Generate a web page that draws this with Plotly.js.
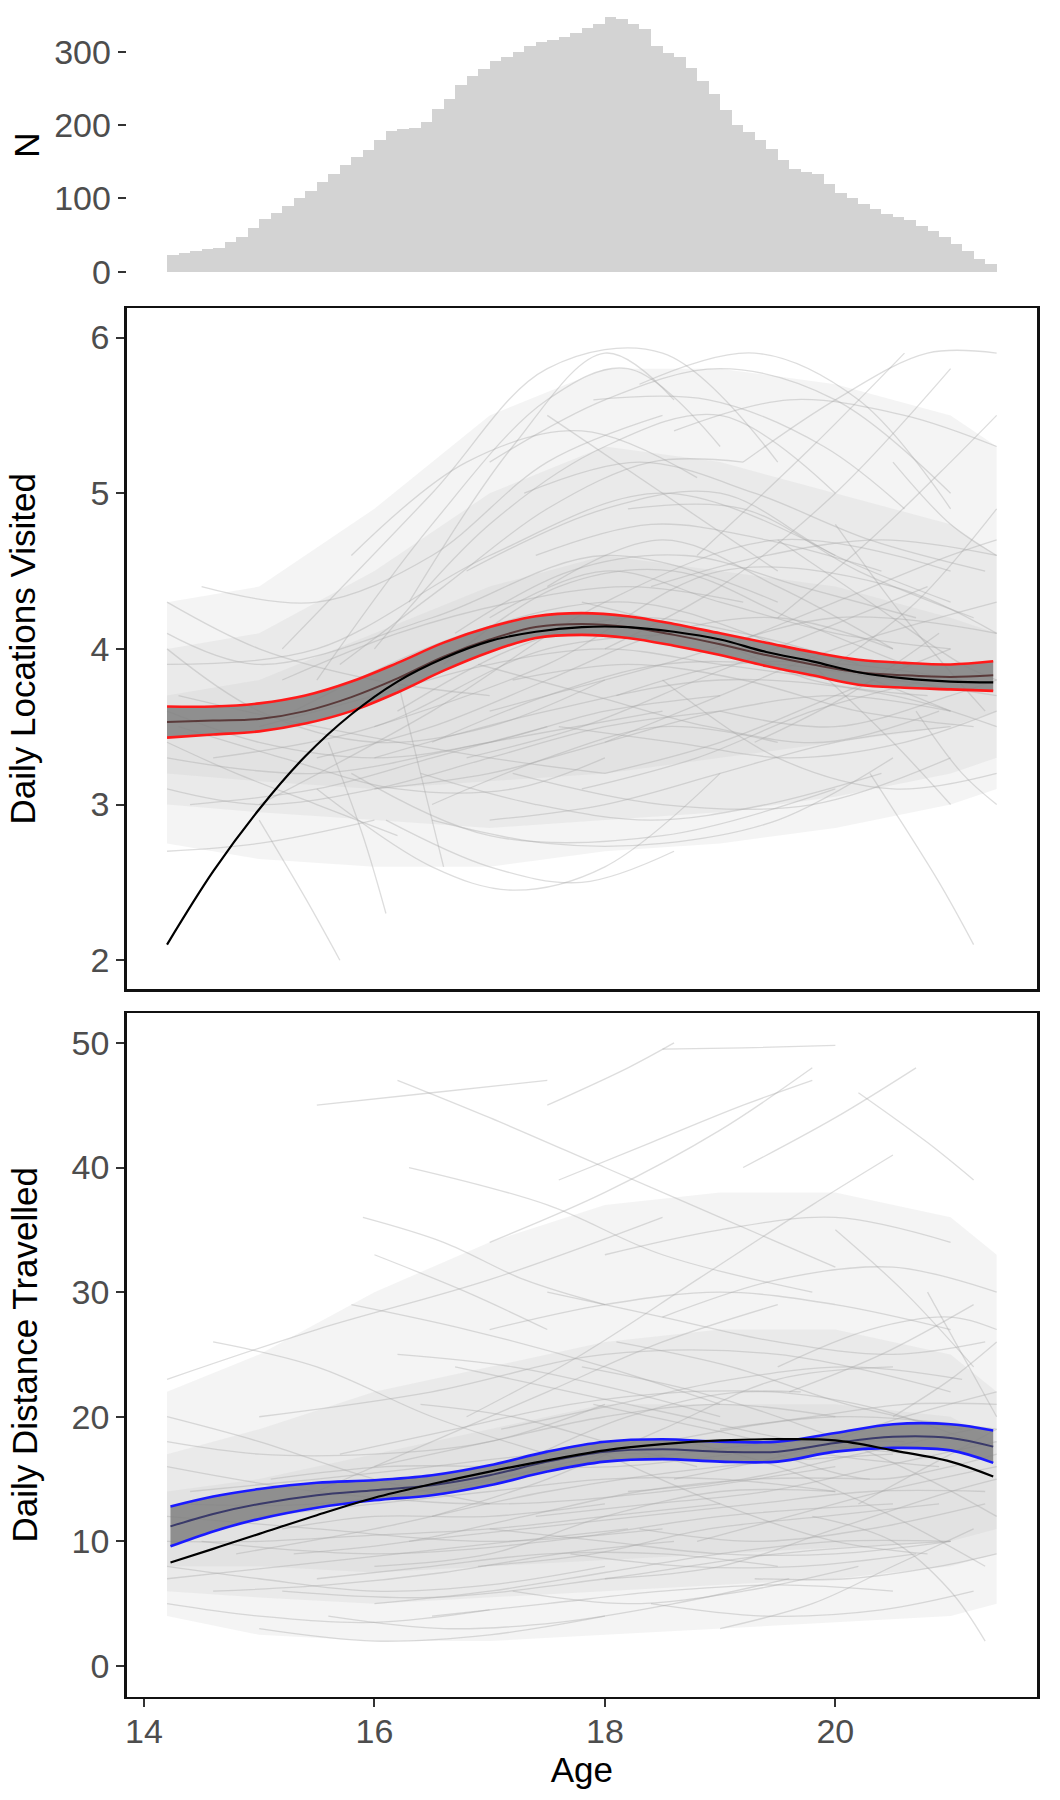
<!DOCTYPE html>
<html>
<head>
<meta charset="utf-8">
<script src="https://cdn.plot.ly/plotly-3.0.1.min.js"></script>
<style>html,body{margin:0;padding:0;background:#fff;}#chart{width:1060px;height:1800px;}</style>
</head>
<body>
<div id="chart"></div>
<script>
// ---------------- DATA ----------------
// Histogram of observations by age (0.1-year bins, bin centres)
const histAge = [14.25,14.35,14.45,14.55,14.65,14.75,14.85,14.95,15.05,15.15,15.25,15.35,15.45,15.55,15.65,15.75,15.85,15.95,16.05,16.15,16.25,16.35,16.45,16.55,16.65,16.75,16.85,16.95,17.05,17.15,17.25,17.35,17.45,17.55,17.65,17.75,17.85,17.95,18.05,18.15,18.25,18.35,18.45,18.55,18.65,18.75,18.85,18.95,19.05,19.15,19.25,19.35,19.45,19.55,19.65,19.75,19.85,19.95,20.05,20.15,20.25,20.35,20.45,20.55,20.65,20.75,20.85,20.95,21.05,21.15,21.25,21.35];
const histN = [23,26,28,31,33,40,48,60,72,80,90,100,110,122,133,145,156,166,180,192,195,196,204,222,236,254,267,276,287,293,300,308,313,316,320,326,332,338,347,344,338,331,308,298,293,278,260,243,220,200,190,180,168,153,140,136,133,120,108,100,92,86,79,75,70,63,55,48,38,28,18,10];

// Daily Locations Visited: smooth (mean + CI) and polynomial fit
const locAge   = [14.2,14.6,15.0,15.4,15.8,16.2,16.6,17.0,17.4,17.8,18.2,18.6,19.0,19.4,19.8,20.2,20.6,21.0,21.37];
const locMean  = [3.53,3.54,3.55,3.60,3.69,3.81,3.95,4.06,4.14,4.16,4.14,4.09,4.03,3.96,3.90,3.85,3.83,3.82,3.83];
const locUpper = [3.63,3.63,3.65,3.70,3.79,3.91,4.04,4.14,4.21,4.23,4.21,4.16,4.10,4.04,3.98,3.93,3.91,3.90,3.92];
const locLower = [3.43,3.45,3.47,3.52,3.60,3.72,3.86,3.98,4.07,4.09,4.07,4.02,3.96,3.89,3.83,3.77,3.75,3.74,3.73];
const locPoly  = [2.10,2.57,2.97,3.31,3.58,3.79,3.94,4.05,4.11,4.14,4.14,4.11,4.06,3.98,3.92,3.85,3.81,3.79,3.785];

// Daily Distance Travelled: smooth (mean + CI) and polynomial fit
const distAge   = [14.23,14.6,15.0,15.5,16.0,16.5,17.0,17.5,18.0,18.5,19.0,19.5,20.0,20.5,21.0,21.37];
const distMean  = [11.2,12.2,13.0,13.7,14.1,14.5,15.3,16.4,17.2,17.4,17.2,17.2,17.9,18.4,18.3,17.6];
const distUpper = [12.8,13.6,14.2,14.7,14.9,15.3,16.1,17.2,18.0,18.2,18.0,18.0,18.7,19.4,19.4,18.9];
const distLower = [9.6,10.8,11.8,12.7,13.3,13.7,14.5,15.6,16.4,16.6,16.4,16.4,17.2,17.5,17.3,16.3];
const distPoly  = [8.3,9.4,10.6,12.1,13.5,14.6,15.6,16.5,17.3,17.8,18.1,18.2,18.1,17.3,16.4,15.2];

// Density of the individual trajectories (read from the grey cloud), three nested levels
const cloudAge   = [14.2,15,16,17,18,19,20,21,21.4];
const locCloudLo = [[2.75,2.65,2.6,2.6,2.7,2.75,2.85,3.0,3.1],[3.0,2.95,2.9,2.85,2.9,2.95,3.05,3.2,3.3],[3.2,3.15,3.1,3.15,3.2,3.3,3.4,3.5,3.6]];
const locCloudHi = [[4.3,4.4,4.9,5.5,5.8,5.8,5.7,5.5,5.3],[4.0,4.1,4.5,5.0,5.3,5.2,5.0,4.8,4.6],[3.7,3.8,4.1,4.4,4.6,4.5,4.4,4.2,4.1]];
const distCloudLo = [[4,2.5,2,2,2.5,3,3.5,4,5],[6,5.5,5,5.5,6,6.5,7,8,9],[8,8,7.5,8,8.5,9,9.5,10,11]];
const distCloudHi = [[22,25,30,34,37,38,38,36,33],[17,19,22,24,26,27,27,25,22],[14,15,17,19,21,21,21,20,18]];

// Individual trajectories (age, value)
const locTraj = [
 [[14.2,4.3],[15,4.0],[16,3.8],[17,3.7]],
 [[14.2,4.1],[15,3.9],[16.5,4.2],[18,4.6],[19.5,4.3]],
 [[14.2,3.9],[15.5,4.0],[17,4.6],[18.5,5.0],[20,4.6]],
 [[14.2,3.3],[15.5,3.2],[17,3.4],[18.5,3.6]],
 [[14.2,2.7],[15,2.75],[16,2.9]],
 [[14.3,3.7],[15.5,3.5],[17,3.3],[18,3.2]],
 [[14.5,4.4],[15.5,4.3],[16.5,4.6],[17.5,5.2],[18.5,5.5]],
 [[15.0,3.0],[16.5,3.6],[18,4.3],[19.5,4.7],[21,4.5]],
 [[15.2,4.0],[16.5,5.0],[17.5,5.8],[18.5,5.9],[19.5,5.2]],
 [[15.5,3.8],[16.5,4.8],[17.5,5.6],[18.2,5.8],[19,5.3]],
 [[15.5,3.1],[16.5,2.6],[17.2,2.45],[18,2.6],[19,3.2]],
 [[15.8,3.2],[17,2.8],[18.5,2.8],[20,3.1]],
 [[16.0,4.0],[17,4.8],[18,5.3],[19,5.5],[20,5.0]],
 [[16.0,3.5],[17.5,3.9],[19,4.5],[20.5,4.4],[21.4,4.1]],
 [[16.3,4.3],[17.2,5.3],[18,5.9],[18.6,5.6]],
 [[16.5,3.0],[17.5,3.3],[18.5,3.5],[19.5,3.4]],
 [[16.5,2.9],[17.5,2.75],[18.5,2.75],[19.5,2.9],[20.5,3.3]],
 [[16.8,4.5],[18,4.9],[19,5.0],[20,4.6],[21,4.3]],
 [[17.0,3.6],[18.5,3.9],[20,4.2],[21.4,4.1]],
 [[17.0,5.2],[18,5.6],[19,5.8],[20,5.6],[21,5.0]],
 [[17.2,3.2],[18.5,3.0],[19.8,3.0],[21,3.3]],
 [[17.5,4.4],[18.5,4.7],[19.5,4.4],[20.5,4.0]],
 [[17.5,5.5],[18.5,5.0],[19.5,4.5]],
 [[18.0,3.4],[19,3.7],[20,4.0],[21.4,4.3]],
 [[18.0,4.0],[19,4.4],[20,5.0],[21,5.8]],
 [[18.3,5.7],[19.3,5.9],[20.2,5.6],[21,4.9]],
 [[18.5,3.8],[19.5,3.3],[20.5,3.1],[21.4,3.2]],
 [[18.8,4.6],[19.8,5.3],[20.6,5.9]],
 [[19.0,3.6],[20,3.5],[21,3.7],[21.4,3.8]],
 [[19.2,5.2],[20,5.6],[20.8,5.9],[21.4,5.9]],
 [[19.5,4.2],[20.3,4.7],[21,5.2],[21.4,5.5]],
 [[19.8,3.9],[20.5,3.4],[21,3.0]],
 [[20.0,4.8],[20.6,4.2],[21.3,3.6]],
 [[20.3,3.2],[20.9,2.5],[21.2,2.1]],
 [[15.0,2.9],[15.4,2.4],[15.7,2.0]],
 [[15.6,3.4],[15.9,2.8],[16.1,2.3]],
 [[16.2,3.8],[16.4,3.2],[16.6,2.6]],
 [[14.2,4.0],[15,3.6],[16,3.4],[17,3.5],[18,3.8]],
 [[14.6,3.3],[16,3.5],[17.5,4.0],[19,4.1]],
 [[15.3,3.6],[16.8,4.1],[18.2,4.3],[19.6,4.0],[21,3.6]],
 [[15.8,4.6],[16.8,5.2],[17.8,5.4],[18.8,5.1]],
 [[16.0,3.3],[17.5,3.6],[19,3.8],[20.5,3.7],[21.4,3.5]],
 [[16.6,3.9],[17.6,4.4],[18.6,4.5],[19.6,4.2],[20.6,3.9]],
 [[17.8,3.1],[18.8,3.3],[19.8,3.6],[20.8,3.8]],
 [[18.2,4.9],[19.2,4.9],[20.2,4.5],[21.2,4.2]],
 [[14.3,3.5],[15.2,3.3],[16.2,3.1],[17.2,3.1],[18,3.3]],
 [[17.0,4.2],[18,4.5],[19,4.3],[20,4.1],[21,4.0]],
 [[19.5,4.7],[20.3,4.3],[21.1,3.9],[21.4,3.8]],
 [[20.5,5.2],[21,4.8],[21.4,4.6]],
 [[16.9,3.9],[17.9,3.7],[18.9,3.5],[19.9,3.4],[20.9,3.6]],
 [[14.2,3.6],[15,3.4],[16,3.3],[17,3.4],[18,3.6],[19,3.7]],
 [[14.4,3.0],[15.5,3.1],[16.5,3.3],[17.5,3.5]],
 [[14.2,3.1],[15,3.0],[16,3.1],[17,3.3],[18,3.5],[19,3.6]],
 [[15.0,3.5],[16,3.7],[17,3.9],[18,4.0],[19,3.9],[20,3.8]],
 [[15.5,3.3],[16.5,3.5],[17.5,3.8],[18.5,4.1],[19.5,4.2],[20.5,4.0]],
 [[16.0,3.1],[17,3.2],[18,3.4],[19,3.6],[20,3.7],[21,3.6]],
 [[16.2,3.6],[17.2,4.0],[18.2,4.2],[19.2,4.1],[20.2,3.9]],
 [[16.5,3.4],[17.5,3.7],[18.5,3.9],[19.5,3.9],[20.5,3.8],[21.4,3.7]],
 [[16.7,4.1],[17.7,4.5],[18.7,4.6],[19.7,4.4],[20.7,4.2]],
 [[17.0,2.9],[18,3.0],[19,3.2],[20,3.4],[21,3.5]],
 [[17.2,3.8],[18.2,3.9],[19.2,3.8],[20.2,3.6],[21.2,3.5]],
 [[17.4,4.6],[18.4,4.8],[19.4,4.7],[20.4,4.5]],
 [[17.6,3.5],[18.6,3.4],[19.6,3.3],[20.6,3.4],[21.4,3.6]],
 [[17.8,4.3],[18.8,4.1],[19.8,3.8],[20.8,3.7]],
 [[18.0,3.2],[19,3.4],[20,3.7],[21,4.0]],
 [[18.4,4.4],[19.4,4.6],[20.4,4.7],[21.4,4.6]],
 [[16.4,3.2],[17.4,3.0],[18.4,2.9],[19.4,3.0],[20.4,3.2]],
 [[15.2,3.8],[16.2,4.1],[17.2,4.3],[18.2,4.4],[19.2,4.3]],
 [[17.3,5.0],[18.3,5.2],[19.3,5.0],[20.3,4.7],[21.3,4.5]],
 [[18.6,5.4],[19.6,5.6],[20.6,5.5],[21.4,5.3]],
 [[16.1,2.9],[17,2.6],[17.8,2.5],[18.6,2.7]],
 [[19.0,4.0],[20,4.3],[21,4.6],[21.4,4.7]],
 [[19.3,3.4],[20.1,3.7],[20.9,4.1]],
 [[20.0,3.9],[20.7,4.3],[21.4,4.9]],
 [[20.7,3.6],[21.1,3.2],[21.4,3.0]],
 [[14.2,3.4],[14.8,3.2],[15.5,3.0],[16.2,2.8]],
 [[15.7,3.9],[16.6,4.4],[17.5,4.9],[18.4,5.2],[19.2,5.2]],
 [[17.9,5.6],[18.9,5.6],[19.9,5.3],[20.6,4.9]],
 [[18.1,3.7],[19.1,3.9],[20.1,3.9],[21.1,3.8]],
 [[16.8,3.3],[17.8,3.5],[18.8,3.8],[19.8,4.1],[20.8,4.4]]
];
const distTraj = [
 [[14.2,23],[15.5,27],[17,31],[18.5,36]],
 [[14.2,20],[15,18],[16,15],[17,13]],
 [[14.2,16],[15.5,14],[17,13],[18.5,14],[20,16]],
 [[14.2,12],[15.5,11],[17,10],[18.5,11]],
 [[14.2,8],[15,7],[16,6],[17,6.5],[18,8]],
 [[14.2,5],[15,4],[16,3.5],[17,4.5]],
 [[14.5,10],[16,9],[17.5,10],[19,12],[20.5,13]],
 [[14.6,26],[15.5,24],[16.5,20],[17.5,17]],
 [[15.0,3],[16,2],[17,2.5],[18,4]],
 [[15.2,6],[16.5,5.5],[18,7],[19.5,9],[21,10]],
 [[15.5,14],[16.5,18],[17.5,22],[18.5,26],[19.5,29]],
 [[15.8,29],[16.8,27],[18,24],[19,21]],
 [[16.0,8],[17,9],[18,12],[19,14],[20,14]],
 [[16.2,47],[17,44],[18,40],[19,36],[20,32]],
 [[16.3,40],[17.5,37],[18.5,33],[19.8,30]],
 [[16.5,12],[17.5,15],[18.5,19],[19.5,23],[20.5,24]],
 [[16.5,4],[17.5,5],[18.5,6],[19.5,6.5],[20.5,6]],
 [[16.8,20],[17.8,25],[18.8,31],[19.8,37],[20.5,41]],
 [[17.0,34],[18,38],[19,43],[19.8,48]],
 [[17.0,11],[18,10],[19,9],[20,9],[21,10]],
 [[17.2,16],[18.2,20],[19.2,22],[20.2,21],[21.2,18]],
 [[17.5,45],[18.2,48],[18.6,50]],
 [[17.8,24],[18.8,22],[19.8,19],[20.8,15],[21.4,12]],
 [[18.0,7],[19,8],[20,11],[21,14],[21.4,15]],
 [[18.2,14],[19.2,15],[20.2,17],[21.2,19]],
 [[18.5,49.5],[19.2,49.6],[20,49.8]],
 [[18.5,28],[19.5,31],[20.5,32],[21.4,30]],
 [[18.7,18],[19.5,16],[20.5,12],[21.3,8]],
 [[19.0,3],[19.8,5],[20.5,8],[21.2,11]],
 [[19.2,40],[20,44],[20.7,48]],
 [[19.5,24],[20.3,27],[21,28],[21.4,27]],
 [[19.8,12],[20.5,10],[21,6],[21.3,2]],
 [[20.0,35],[20.6,30],[21.2,24]],
 [[20.2,46],[20.8,42],[21.2,39]],
 [[20.5,20],[21,23],[21.4,26]],
 [[14.3,13],[15.5,13],[17,15],[18.5,18],[20,20],[21.4,19]],
 [[14.8,9],[16,11],[17.5,14],[19,16],[20.5,17]],
 [[15.0,20],[16.5,22],[18,25],[19.5,25],[21,22]],
 [[15.5,7],[16.5,8],[17.5,9],[18.5,9],[19.5,8]],
 [[16.0,16],[17,18],[18,20],[19,21],[20,20]],
 [[16.0,33],[16.8,30],[17.5,27]],
 [[17.2,6],[18.2,5],[19.2,6],[20.2,8]],
 [[17.5,30],[18.5,28],[19.5,26],[20.5,25],[21.3,26]],
 [[18.0,17],[19,13],[20,10],[20.8,9]],
 [[14.2,18],[15,17],[16,17],[17,18],[18,21]],
 [[15.2,11],[16,12],[17,12],[18,13]],
 [[18.8,10],[19.6,12],[20.4,14],[21.4,16]],
 [[17.6,39],[18.4,42],[19.2,45],[19.8,47]],
 [[16.2,25],[17.2,24],[18.2,22],[19,20]],
 [[20.8,30],[21.1,25],[21.4,20]],
 [[19.5,17],[20.3,15],[21,16],[21.4,17]],
 [[15.5,45],[16.5,46],[17.5,47]],
 [[14.2,10],[15,10],[16,10.5],[17,11],[18,12],[19,13]],
 [[14.4,14],[15.5,15],[16.5,16],[17.5,17],[18.5,17]],
 [[14.6,6],[15.6,6.5],[16.6,7.5],[17.6,9],[18.6,10]],
 [[15.0,12],[16,13],[17,14],[18,15],[19,15],[20,14]],
 [[15.3,9],[16.3,10],[17.3,12],[18.3,14],[19.3,15],[20.3,15]],
 [[15.7,17],[16.7,19],[17.7,21],[18.7,22],[19.7,22]],
 [[16.0,5],[17,6],[18,7.5],[19,9],[20,10],[21,10]],
 [[16.3,10],[17.3,11],[18.3,12],[19.3,13],[20.3,14],[21.3,14]],
 [[16.6,14],[17.6,16],[18.6,17],[19.6,18],[20.6,18]],
 [[16.9,8],[17.9,9],[18.9,11],[19.9,12],[20.9,13]],
 [[17.1,19],[18.1,21],[19.1,23],[20.1,24],[21.1,23]],
 [[17.4,12],[18.4,13],[19.4,14],[20.4,16],[21.4,18]],
 [[17.7,9],[18.7,8],[19.7,8],[20.7,9]],
 [[17.9,21],[18.9,19],[19.9,17],[20.9,16]],
 [[18.1,26],[19.1,24],[20.1,21],[21.1,19]],
 [[18.3,11],[19.3,10],[20.3,11],[21.3,13]],
 [[18.6,15],[19.6,17],[20.6,20],[21.4,22]],
 [[19.0,19],[19.8,20],[20.6,21],[21.4,21]],
 [[19.3,7],[20.1,7],[20.9,8],[21.4,9]],
 [[16.4,21],[17.2,20],[18,18],[18.8,16]],
 [[15.1,15],[16.1,16],[17.1,16],[18.1,16],[19.1,17]],
 [[14.2,7],[15.2,8],[16.2,9],[17.2,10],[18.2,11]],
 [[17.0,27],[18,29],[19,30],[20,29],[21,27]],
 [[18.0,33],[19,35],[20,36],[21,34]],
 [[19.6,22],[20.4,25],[21.2,29]],
 [[15.6,4],[16.6,3],[17.6,3.5],[18.6,5],[19.6,7]],
 [[20.2,13],[20.8,16],[21.4,19]],
 [[16.7,24],[17.7,22],[18.7,20],[19.7,18],[20.7,17]],
 [[18.4,5],[19.4,4],[20.4,4.5],[21.2,6]],
 [[15.9,36],[16.6,34],[17.3,31],[18,29]]
];

// Tick labels
const histTicks = [0,100,200,300];
const locTicks  = [2,3,4,5,6];
const distTicks = [0,10,20,30,40,50];
const ageTicks  = [14,16,18,20];

// ---------------- BUILD ----------------
const traces = [];
function addCloud(xa, ya, los, his){
  los.forEach((lo, i) => {
    const hi = his[i];
    traces.push({x: cloudAge.concat(cloudAge.slice().reverse()), y: lo.concat(hi.slice().reverse()),
      xaxis:xa, yaxis:ya, mode:'lines', fill:'toself', fillcolor:'rgba(188,188,188,0.16)',
      line:{width:0, color:'rgba(0,0,0,0)'}, hoverinfo:'skip'});
  });
}
function addTraj(list, xa, ya){
  list.forEach(t => traces.push({x:t.map(p=>p[0]), y:t.map(p=>p[1]), xaxis:xa, yaxis:ya, mode:'lines',
    line:{color:'rgba(165,165,165,0.38)', width:1.3, shape:'spline', smoothing:1}, hoverinfo:'skip'}));
}
function addBand(xa, ya, ages, lo, hi, mid, fit, edge, midCol){
  traces.push({x:ages, y:lo, xaxis:xa, yaxis:ya, mode:'lines', line:{color:edge, width:2.6, shape:'spline'}});
  traces.push({x:ages, y:hi, xaxis:xa, yaxis:ya, mode:'lines', fill:'tonexty', fillcolor:'rgba(128,128,128,0.85)',
    line:{color:edge, width:2.6, shape:'spline'}});
  traces.push({x:ages, y:mid, xaxis:xa, yaxis:ya, mode:'lines', line:{color:midCol, width:2, shape:'spline'}});
  traces.push({x:ages, y:fit, xaxis:xa, yaxis:ya, mode:'lines', line:{color:'#000', width:2.2, shape:'spline'}});
}

traces.push({type:'bar', x:histAge, y:histN, width:0.1, xaxis:'x', yaxis:'y',
  marker:{color:'#d3d3d3', line:{width:0}}, hoverinfo:'skip'});

addCloud('x2','y2', locCloudLo, locCloudHi);
addTraj(locTraj, 'x2','y2');
addBand('x2','y2', locAge, locLower, locUpper, locMean, locPoly, '#ff1a1a', '#5a3a3a');

addCloud('x3','y3', distCloudLo, distCloudHi);
addTraj(distTraj, 'x3','y3');
addBand('x3','y3', distAge, distLower, distUpper, distMean, distPoly, '#1a1aff', '#3a3a6a');

const W = 1060, H = 1800;
const xDom = [126.7/W, 1037/W];
function yDom(top, bot){ return [1 - bot/H, 1 - top/H]; }
const xr = [13.85, 21.75];
const tickFont = {family:'Liberation Sans, Arial, sans-serif', size:34, color:'#4d4d4d'};
const titleFont = {family:'Liberation Sans, Arial, sans-serif', size:35, color:'#000'};
const boxAxis = {showline:true, mirror:true, linecolor:'#111', linewidth:2.5, showgrid:false, zeroline:false};
const yTickStyle = {ticks:'outside', ticklen:8, tickwidth:2, tickcolor:'#333', tickfont:tickFont};

const layout = {
  width:W, height:H, margin:{l:0,r:0,t:0,b:0}, showlegend:false,
  paper_bgcolor:'#fff', plot_bgcolor:'rgba(0,0,0,0)', bargap:0,
  font:{family:'Liberation Sans, Arial, sans-serif'},
  xaxis:{domain:xDom, range:xr, anchor:'y', visible:false, showgrid:false, zeroline:false},
  yaxis:Object.assign({domain:yDom(5,285), range:[-18.1,363.7], anchor:'x', tickvals:histTicks,
    showline:false, showgrid:false, zeroline:false,
    title:{text:'N', font:titleFont, standoff:3}}, yTickStyle),
  xaxis2:Object.assign({domain:xDom, range:xr, anchor:'y2', showticklabels:false, ticks:''}, boxAxis),
  yaxis2:Object.assign({domain:yDom(308.3,989.3), range:[1.813,6.188], anchor:'x2', tickvals:locTicks,
    title:{text:'Daily Locations Visited', font:titleFont, standoff:44}}, boxAxis, yTickStyle),
  xaxis3:Object.assign({domain:xDom, range:xr, anchor:'y3', tickvals:ageTicks,
    ticks:'outside', ticklen:8, tickwidth:2, tickcolor:'#333', tickfont:tickFont, ticklabelstandoff:-5,
    title:{text:'Age', font:titleFont, standoff:8}}, boxAxis),
  yaxis3:Object.assign({domain:yDom(1013,1696.5), range:[-2.45,52.4], anchor:'x3', tickvals:distTicks,
    title:{text:'Daily Distance Travelled', font:titleFont, standoff:24}}, boxAxis, yTickStyle)
};

Plotly.newPlot('chart', traces, layout, {staticPlot:true, displayModeBar:false});
</script>
</body>
</html>
